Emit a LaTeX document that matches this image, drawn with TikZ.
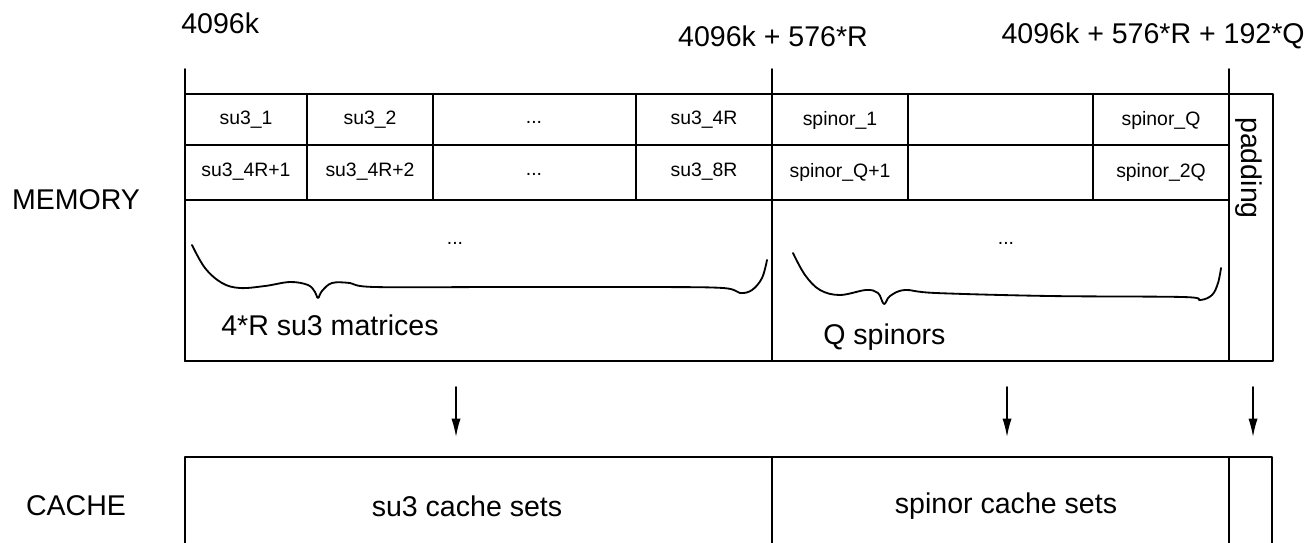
\documentclass[tikz,border=0pt]{standalone}
\usepackage{fontspec}
\setmainfont{Liberation Sans}
\usetikzlibrary{arrows.meta}

\begin{document}
\begin{tikzpicture}[x=0.025cm,y=-0.025cm,line cap=round,line join=round,
  cell/.style={font=\fontsize{13.8}{16}\selectfont,inner sep=0pt},
  lbl/.style={font=\fontsize{20.3}{24}\selectfont,inner sep=0pt},
  box/.style={line width=1.4pt},
  brace/.style={line width=1.3pt},
  arr/.style={line width=1.1pt,-{Latex[length=13pt,width=6.5pt]}}]
\useasboundingbox (0,0) rectangle (1312,542);
\coordinate (T0) at (185,69);
\coordinate (T1) at (772,69);
\coordinate (T2) at (1229,69);
\coordinate (B0) at (185,361);
\coordinate (B1) at (772,361);
\coordinate (B2) at (1229,361);
\node[lbl,anchor=west] (addrA) at (181,23) {4096k};
\node[lbl] (addrB) at (773,36) {4096k + 576*R};
\node[lbl,anchor=east] (addrC) at (1305,36) {4096k + 576*R + 192*Q};
\node[lbl] (mem) at (76,200) {MEMORY};
\node[lbl] (cache) at (76,506) {CACHE};
\draw[box] (185,94) rectangle (1273,361);
\draw[box] (T0)--(B0);
\draw[box] (T1)--(B1);
\draw[box] (T2)--(B2);
\draw[box] (185,145)--(1229,145);
\draw[box] (185,200)--(1229,200);
\foreach \cx in {307,433,636,908,1093}
  \draw[box] (\cx,94)--(\cx,200);
\node[cell] (s1) at (246,120) {su3\_1};
\node[cell] (s2) at (370,120) {su3\_2};
\node[cell] (sd) at (534,122) {...};
\node[cell] (s4) at (704,120) {su3\_4R};
\node[cell] (s5) at (246,172) {su3\_4R+1};
\node[cell] (s6) at (370,172) {su3\_4R+2};
\node[cell] (se) at (534,174) {...};
\node[cell] (s8) at (704,172) {su3\_8R};
\node[cell] (p1) at (840,120) {spinor\_1};
\node[cell] (pq) at (1161,120) {spinor\_Q};
\node[cell] (p2) at (840,172) {spinor\_Q+1};
\node[cell] (p3) at (1161,172) {spinor\_2Q};
\node[lbl,rotate=-90] (pad) at (1249,168) {padding};
\node[cell] (sdots) at (455,243) {...};
\node[cell] (pdots) at (1006,243) {...};
\draw[brace] plot[smooth,tension=0.6] coordinates {(192,245) (205,268) (222,283) (240,288) (265,286) (290,282) (308,285) (315,292) (318,298) (322,291) (332,283) (350,283) (375,287) (500,287) (650,287) (723,288) (740,293) (752,290) (762,278) (767,260)};
\draw[brace] plot[smooth,tension=0.6] coordinates {(793,253) (805,275) (820,290) (840,295) (866,290) (878,293) (884,304) (890,296) (905,290) (936,293) (1050,296) (1183,297) (1200,300) (1212,295) (1218,283) (1221,268)};
\node[lbl,anchor=west] (nsu) at (221,325) {4*R su3 matrices};
\node[lbl,anchor=west] (nsp) at (823,337) {Q spinors};
\coordinate (a1s) at (456,387);
\coordinate (a1e) at (456,437);
\coordinate (a2s) at (1007,387);
\coordinate (a2e) at (1007,437);
\coordinate (a3s) at (1253,387);
\coordinate (a3e) at (1253,437);
\draw[arr] (a1s)--(a1e);
\draw[arr] (a2s)--(a2e);
\draw[arr] (a3s)--(a3e);
\draw[box] (185,548)--(185,457)--(1272,457)--(1272,548);
\draw[box] (772,457)--(772,548);
\draw[box] (1229,457)--(1229,548);
\node[lbl] (csu) at (467,506) {su3 cache sets};
\node[lbl] (csp) at (1006,506) {spinor cache sets};
\end{tikzpicture}
\end{document}
